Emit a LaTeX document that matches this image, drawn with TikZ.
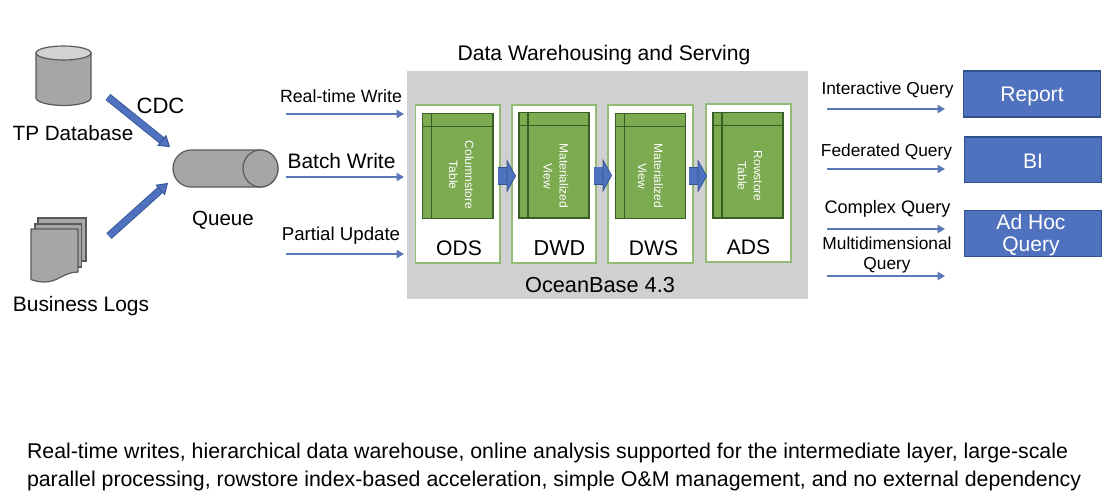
\documentclass[tikz,border=0pt]{standalone}
\usepackage{fontspec}
\setmainfont{Liberation Sans}
\usetikzlibrary{arrows.meta,calc}
\definecolor{panelgrey}{HTML}{D0D0D0}
\definecolor{cardgreen}{HTML}{94BA78}
\definecolor{tablegreen}{HTML}{7BAA50}
\definecolor{tableline}{HTML}{3A5C26}
\definecolor{boxblue}{HTML}{4F71BE}
\definecolor{boxline}{HTML}{2F528F}
\definecolor{linkblue}{HTML}{5878B8}
\definecolor{shapegrey}{HTML}{A6A6A6}
\definecolor{shapelight}{HTML}{D2D2D2}
\definecolor{shapeline}{HTML}{595959}
\newcommand\fsz[1]{\fontsize{#1}{#1}\selectfont}
\tikzset{
  x=0.75pt,y=-0.75pt,
  txt/.style={inner sep=0pt,outer sep=0pt,text=black,align=center},
  solid shape/.style={draw=shapeline,fill=shapegrey,line width=0.9pt},
  panel/.style={fill=panelgrey,draw=none},
  card/.style={fill=white,draw=cardgreen,line width=1.1pt},
  grid lines/.style={draw=tableline,line width=0.95pt},
  tablebox/.style={fill=tablegreen,draw=tableline,line width=0.95pt},
  result/.style={fill=boxblue,draw=boxline,line width=0.9pt,inner sep=0pt,minimum width=103pt},
  resulttext/.style={txt,text=white,font=\fsz{15.8}},
  tabletext/.style={txt,text=white,rotate=-90,font=\fsz{9}},
  thinlink/.style={draw=linkblue,line width=1.7pt,-{Triangle[length=5.5pt,width=6pt,fill=linkblue]}},
  blocklink/.style={draw=boxline,line width=0.6pt,double=boxblue,double distance=4.6pt,line cap=butt,
     -{Triangle[length=8pt,width=10.5pt,fill=boxblue,line width=0.6pt]}},
  flowlink/.style={draw=boxline,line width=0.5pt,double=boxblue,double distance=12.5pt,line cap=butt,
     -{Triangle[length=7pt,width=25pt,fill=boxblue,line width=0.5pt]}},
}
\begin{document}
\begin{tikzpicture}
\useasboundingbox (0,0) rectangle (1120,501);
% database cylinder
\path[solid shape] (36,53) -- (36,98) .. controls (36,102) and (49,105.5) .. (63.5,105.5) .. controls (78,105.5) and (91,102) .. (91,98) -- (91,53) -- cycle;
\draw[solid shape,fill=shapelight] (63.5,53) ellipse (27.5 and 7);
\coordinate (tpdb) at (108,97);
\node[txt,font=\fsz{15.5}] (tplabel) at (73,133.5) {TP Database};
\node[txt,font=\fsz{16.6}] (cdc) at (160.5,106) {CDC};
% logs
\path[solid shape] (38,218) rectangle (86,261);
\path[solid shape] (35,224) rectangle (81.5,267);
\path[solid shape] (31,229) -- (78,229) -- (78,272) .. controls (64,272) and (58,282) .. (45,282) .. controls (39,282) and (35,281) .. (31,279.5) -- cycle;
\coordinate (logs) at (109,236);
\node[txt,font=\fsz{15.7}] (loglabel) at (81,306) {Business Logs};
% queue
\path[solid shape] (191,150) -- (260.5,150) .. controls (270,150) and (278,158.5) .. (278,168.5) .. controls (278,178.5) and (270,187) .. (260.5,187) -- (191,187) .. controls (181,187) and (173,178.5) .. (173,168.5) .. controls (173,158.5) and (181,150) .. (191,150) -- cycle;
\draw[solid shape] (260.5,168.5) ellipse (17.5 and 18.5);
\coordinate (queuein) at (170,147);
\coordinate (queuein2) at (168,183);
\node[txt,font=\fsz{15.4}] (queue) at (223,220) {Queue};
\draw[blocklink] (tpdb) -- (queuein);
\draw[blocklink] (logs) -- (queuein2);
% write labels and links
\node[txt,font=\fsz{13.3}] (rt) at (341,96) {Real-time Write};
\node[txt,font=\fsz{15.7}] (bw) at (341.5,161) {Batch Write};
\node[txt,font=\fsz{14}] (pu) at (341,236) {Partial Update};
\coordinate (w1a) at (286,114); \coordinate (w1b) at (404,114);
\coordinate (w2a) at (286,177); \coordinate (w2b) at (404,177);
\coordinate (w3a) at (286,254); \coordinate (w3b) at (404,254);
\draw[thinlink] (w1a) -- (w1b);
\draw[thinlink] (w2a) -- (w2b);
\draw[thinlink] (w3a) -- (w3b);
% warehouse panel
\node[txt,font=\fsz{15.85}] (title) at (604,55) {Data Warehousing and Serving};
\path[panel] (407,71) rectangle (808,299);
\node[txt,font=\fsz{16.3}] (ob) at (600,285) {OceanBase 4.3};
% cards
\path[card] (415.5,105) rectangle (500,263);
\path[card] (512,105) rectangle (596,263);
\path[card] (608,105) rectangle (693,263);
\path[card] (706,104) rectangle (791,262);
% tables
\path[tablebox] (422.5,113.5) rectangle (493,218.5);
\draw[grid lines] (431.5,113.5) -- (431.5,218.5) (422.5,126.5) -- (493,126.5);
\path[tablebox] (519,112.5) rectangle (589,218);
\draw[grid lines] (528,112.5) -- (528,218) (519,125.5) -- (589,125.5);
\path[tablebox] (615.5,113.5) rectangle (685.5,218.5);
\draw[grid lines] (624.5,113.5) -- (624.5,218.5) (615.5,126.5) -- (685.5,126.5);
\path[tablebox] (713,112.5) rectangle (783,218);
\draw[grid lines] (722,112.5) -- (722,218) (713,125.5) -- (783,125.5);
\node[tabletext] (t1) at (461.5,175) {Columnstore\\[3pt]Table};
\node[tabletext] (t2) at (556,176) {Materialized\\[3pt]View};
\node[tabletext] (t3) at (650.5,176) {Materialized\\[3pt]View};
\node[tabletext] (t4) at (750,176) {Rowstore\\[3pt]Table};
\node[txt,font=\fsz{15.8}] (ods) at (459,248) {ODS};
\node[txt,font=\fsz{16.2}] (dwd) at (559.5,248) {DWD};
\node[txt,font=\fsz{15.8}] (dws) at (653.5,248) {DWS};
\node[txt,font=\fsz{15.8}] (ads) at (748.5,247) {ADS};
\coordinate (f1a) at (498,176); \coordinate (f1b) at (516,176);
\coordinate (f2a) at (594,175.5); \coordinate (f2b) at (612,175.5);
\coordinate (f3a) at (689,176); \coordinate (f3b) at (707,176);
\draw[flowlink] (f1a) -- (f1b);
\draw[flowlink] (f2a) -- (f2b);
\draw[flowlink] (f3a) -- (f3b);
% query labels and links
\node[txt,font=\fsz{13}] (q1) at (887.5,90) {Interactive Query};
\node[txt,font=\fsz{13}] (q2) at (886.5,152) {Federated Query};
\node[txt,font=\fsz{13.6}] (q3) at (887.5,209) {Complex Query};
\node[txt,font=\fsz{13}] (q4) at (887,255) {Multidimensional\\[2.2pt]Query};
\coordinate (q1a) at (827,109); \coordinate (q1b) at (945,109);
\coordinate (q2a) at (827,169); \coordinate (q2b) at (945,169);
\coordinate (q3a) at (827,229); \coordinate (q3b) at (945,229);
\coordinate (q4a) at (827,276); \coordinate (q4b) at (945,276);
\draw[thinlink] (q1a) -- (q1b);
\draw[thinlink] (q2a) -- (q2b);
\draw[thinlink] (q3a) -- (q3b);
\draw[thinlink] (q4a) -- (q4b);
% result boxes
\node[result,minimum height=34.5pt] (report) at (1032.2,94) {};
\node[result,minimum height=34pt] (bi) at (1033.2,159.7) {};
\node[result,minimum height=34pt] (adhoc) at (1033.2,233.5) {};
\node[resulttext] (reporttext) at (1032,96) {Report};
\node[resulttext] (bitext) at (1033,161.5) {BI};
\node[resulttext] (adhoctext) at (1031,235) {Ad Hoc\\[0.3pt]Query};
% bottom text
\node[txt,anchor=west,font=\fsz{16}] (l1) at (27,453) {Real-time writes, hierarchical data warehouse, online analysis supported for the intermediate layer, large-scale};
\node[txt,anchor=west,font=\fsz{16}] (l2) at (27,481) {parallel processing, rowstore index-based acceleration, simple O\&M management, and no external dependency};
\end{tikzpicture}
\end{document}
